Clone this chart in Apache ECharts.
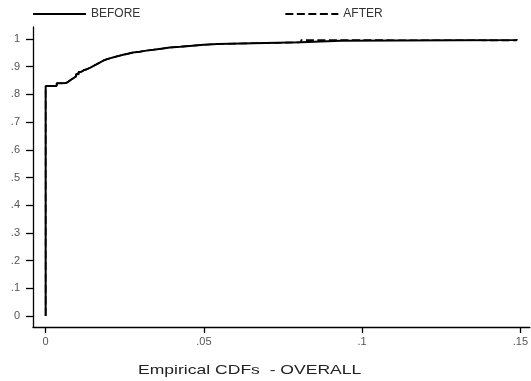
<!DOCTYPE html>
<html>
<head>
<meta charset="utf-8">
<script src="https://cdn.jsdelivr.net/npm/echarts@6/dist/echarts.min.js"></script>
<style>
  html, body { margin: 0; padding: 0; background: #fff; }
  #chart { width: 531px; height: 381px; }
</style>
</head>
<body>
<div id="chart"></div>
<script>
// Empirical CDF steps: jump positions and cumulative shares
const cdfX = [0, 0, 0.0035, 0.0050, 0.0064, 0.0072, 0.0080, 0.0088, 0.0096, 0.0104,
  0.0112, 0.0120, 0.0130, 0.0140, 0.0150, 0.0160, 0.0171, 0.0182, 0.0193, 0.0205,
  0.0218, 0.0231, 0.0245, 0.0260, 0.0276, 0.0297, 0.0318, 0.0340, 0.0365, 0.0392,
  0.0425, 0.0455, 0.0500, 0.0543, 0.0807, 0.0933, 0.1488];
const beforeF = [0, 0.830, 0.840, 0.841, 0.846, 0.853, 0.859, 0.865, 0.873, 0.881,
  0.887, 0.891, 0.896, 0.902, 0.908, 0.915, 0.922, 0.927, 0.931, 0.935,
  0.939, 0.943, 0.947, 0.951, 0.954, 0.958, 0.961, 0.965, 0.969, 0.972,
  0.975, 0.979, 0.982, 0.988, 0.994, 0.996, 1.0];
const afterF = [0, 0.830, 0.840, 0.841, 0.846, 0.853, 0.859, 0.865, 0.873, 0.881,
  0.887, 0.891, 0.896, 0.902, 0.908, 0.915, 0.922, 0.927, 0.931, 0.935,
  0.939, 0.943, 0.947, 0.951, 0.954, 0.958, 0.961, 0.965, 0.969, 0.972,
  0.975, 0.979, 0.982, 0.988, 0.996, 0.995, 1.0];

const xTicks = [0, 0.05, 0.1, 0.15];
const yTicks = [0, 0.1, 0.2, 0.3, 0.4, 0.5, 0.6, 0.7, 0.8, 0.9, 1];
const seriesNames = ['BEFORE', 'AFTER'];
const chartTitle = 'Empirical CDFs  - OVERALL';

// Stata-style labels: drop the leading zero (".05", ".9")
const fmt = v => (v === 0 ? '0' : String(v).replace(/^0\./, '.'));

const pairs = ys => cdfX.map((x, i) => [x, ys[i]]);

const chart = echarts.init(document.getElementById('chart'), null, { renderer: 'canvas' });
const font = '"Liberation Sans", Arial, sans-serif';

chart.setOption({
  animation: false,
  backgroundColor: '#fff',
  grid: { left: 33, right: 0, top: 27, bottom: 54, containLabel: false },
  legend: {
    left: 32, top: 8, padding: 0,
    itemWidth: 53, itemHeight: 10, itemGap: 144,
    itemStyle: { opacity: 0 },
    textStyle: { fontFamily: font, fontSize: 12, color: '#333' },
    data: seriesNames
  },
  graphic: [{
    type: 'text', x: 138, y: 370, scaleX: 1.35,
    style: { text: chartTitle, font: '13px ' + font, fill: '#222', verticalAlign: 'middle' }
  }],
  xAxis: {
    type: 'value', min: -0.004, max: 0.153,
    axisLine: { show: true, onZero: false, lineStyle: { color: '#000', width: 1.3 } },
    axisTick: { show: true, length: 6, customValues: xTicks, lineStyle: { color: '#000', width: 1.3 } },
    axisLabel: { customValues: xTicks, formatter: fmt, margin: 9, fontFamily: font, fontSize: 11, color: '#555' },
    splitLine: { show: false }
  },
  yAxis: {
    type: 'value', min: -0.0397, max: 1.0433,
    axisLine: { show: true, onZero: false, lineStyle: { color: '#000', width: 1.3 } },
    axisTick: { show: true, length: 7, customValues: yTicks, lineStyle: { color: '#000', width: 1.3 } },
    axisLabel: { customValues: yTicks, formatter: fmt, margin: 13, fontFamily: font, fontSize: 11, color: '#555' },
    splitLine: { show: false }
  },
  series: [
    {
      name: seriesNames[0], type: 'line', step: 'end', symbol: 'none', showSymbol: false,
      lineStyle: { color: '#000', width: 2 }, itemStyle: { color: '#000' },
      data: pairs(beforeF)
    },
    {
      name: seriesNames[1], type: 'line', step: 'end', symbol: 'none', showSymbol: false,
      lineStyle: { color: '#000', width: 1.6, type: [8, 3.5] }, itemStyle: { color: '#000' },
      data: pairs(afterF)
    }
  ]
});
</script>
</body>
</html>
